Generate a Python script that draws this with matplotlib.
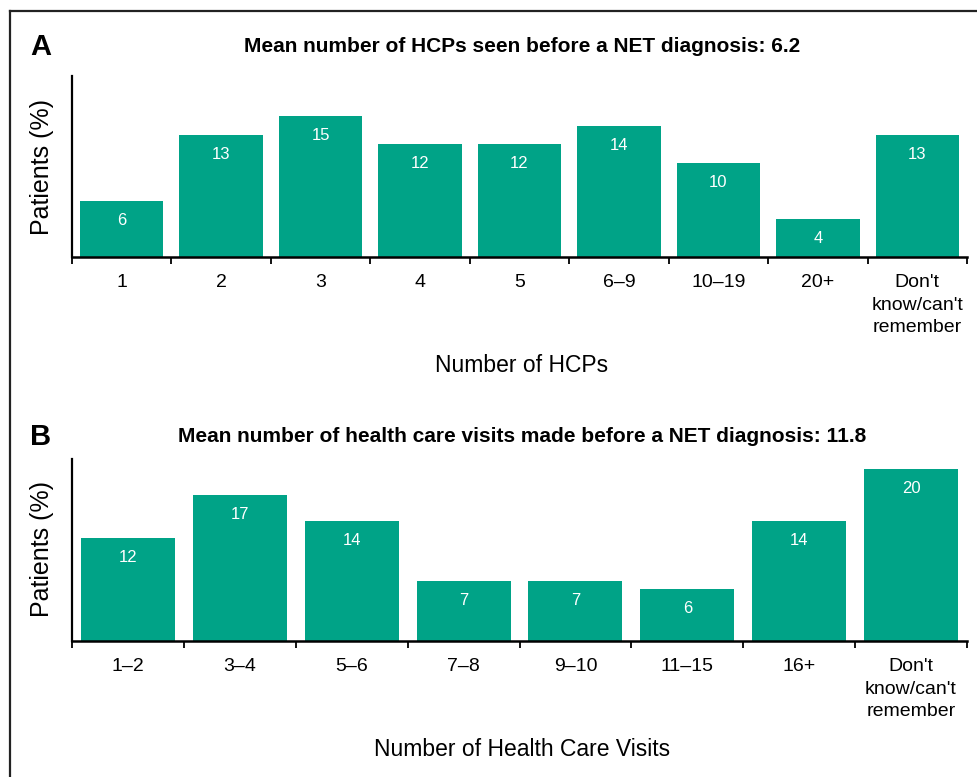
import matplotlib
matplotlib.use("Agg")
import matplotlib.pyplot as plt
from matplotlib.lines import Line2D

# Panel A: number of HCPs seen before diagnosis
hcp_labels = ["1", "2", "3", "4", "5", "6\u20139", "10\u201319", "20+",
              "Don't\nknow/can't\nremember"]
hcp_values = [6, 13, 15, 12, 12, 14, 10, 4, 13]

# Panel B: number of health care visits before diagnosis
visit_labels = ["1\u20132", "3\u20134", "5\u20136", "7\u20138", "9\u201310",
                "11\u201315", "16+", "Don't\nknow/can't\nremember"]
visit_values = [12, 17, 14, 7, 7, 6, 14, 20]

BAR_COLOR = "#00A387"
SANS = ["Liberation Sans", "DejaVu Sans"]

plt.rcParams["font.family"] = SANS

W, H = 978, 777
fig = plt.figure(figsize=(W / 100, H / 100), dpi=100)


def px(x, y):
    # pixel coords (top-left origin) -> figure fraction
    return x / W, 1 - y / H


def draw_panel(rect, labels, values, ymax):
    ax = fig.add_axes(rect)
    n = len(values)
    xs = list(range(n))
    ax.bar(xs, values, width=0.84, color=BAR_COLOR, zorder=2)
    for i, v in zip(xs, values):
        ax.annotate(str(v), xy=(i, v), xytext=(0, -14), textcoords="offset points",
                    ha="center", va="center", color="white", fontsize=12)
    ax.set_xlim(-0.5, n - 0.5)
    ax.set_ylim(0, ymax)
    ax.set_yticks([])
    # boundary ticks (major, no labels) and centered labels (minor, no tick)
    ax.set_xticks([i - 0.5 for i in range(n + 1)])
    ax.set_xticklabels([])
    ax.set_xticks(xs, minor=True)
    ticklabels = ax.set_xticklabels(labels, minor=True, fontsize=14)
    for t in ticklabels:
        t.set_linespacing(1.45)
    ax.tick_params(axis="x", which="major", length=5, width=1.3, direction="out")
    ax.tick_params(axis="x", which="minor", length=0, pad=12)
    for s in ["top", "right"]:
        ax.spines[s].set_visible(False)
    ax.spines["left"].set_linewidth(1.6)
    ax.spines["bottom"].set_linewidth(1.8)
    return ax


left = 72 / W
width = (967 - 72) / W

# panel A axes: top 76px, bottom 257px
axA = draw_panel([left, 1 - 257 / H, width, (257 - 76) / H], hcp_labels, hcp_values, 19.3)
# panel B axes: top 459px, bottom 641px
axB = draw_panel([left, 1 - 641 / H, width, (641 - 459) / H], visit_labels, visit_values, 21.2)

# panel letters and titles
fig.text(*px(30, 47), "A", fontsize=21, fontweight="bold", ha="left", va="center")
fig.text(*px(30, 437), "B", fontsize=21, fontweight="bold", ha="left", va="center")
fig.text(*px(522, 47), "Mean number of HCPs seen before a NET diagnosis: 6.2",
         fontsize=15, fontweight="bold", ha="center", va="center")
fig.text(*px(522, 437), "Mean number of health care visits made before a NET diagnosis: 11.8",
         fontsize=15, fontweight="bold", ha="center", va="center")

# axis labels
fig.text(*px(42, 167), "Patients (%)", rotation=90, fontsize=18, ha="center", va="center")
fig.text(*px(42, 549), "Patients (%)", rotation=90, fontsize=18, ha="center", va="center")
fig.text(*px(522, 366), "Number of HCPs", fontsize=16.5, ha="center", va="center")
fig.text(*px(522, 749), "Number of Health Care Visits", fontsize=16.5,
         ha="center", va="center")

# frame lines along left and top edges
fig.add_artist(Line2D([9.5 / W, 9.5 / W], [0, 1 - 10.5 / H], color="#222222", lw=1.6))
fig.add_artist(Line2D([9.5 / W, 1], [1 - 10.5 / H, 1 - 10.5 / H], color="#222222", lw=1.6))

fig.savefig("out.png", dpi=100)
